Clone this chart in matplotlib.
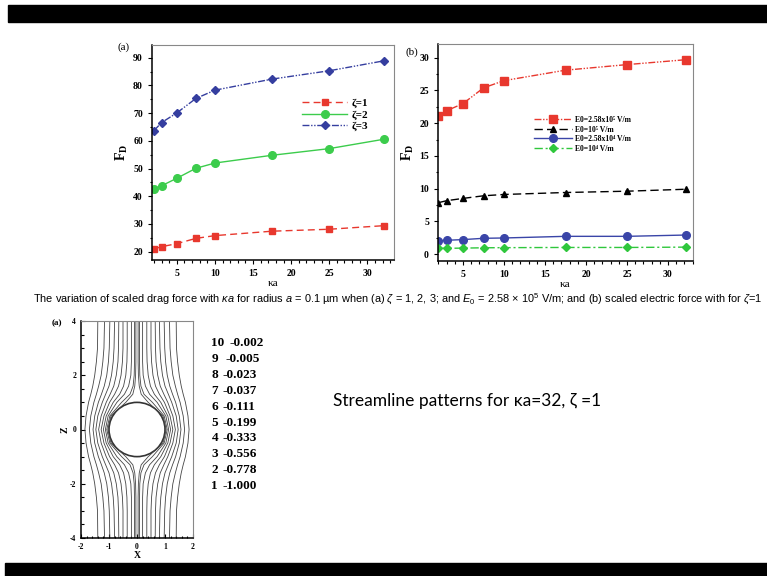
import matplotlib
matplotlib.use("Agg")
import matplotlib.pyplot as plt
import matplotlib.patches as mpatches
from matplotlib.ticker import MultipleLocator
import numpy as np

# ---- data ----
ka = [2, 3, 5, 7.5, 10, 17.5, 25, 32.2]

# (a) scaled drag force
fd_z1 = [21.0, 21.8, 22.9, 24.8, 25.8, 27.4, 28.1, 29.4]
fd_z2 = [42.6, 43.8, 46.5, 50.1, 52.0, 54.8, 57.2, 60.6]
fd_z3 = [63.7, 66.6, 70.1, 75.3, 78.3, 82.3, 85.3, 88.9]
labels_a = ["ζ=1", "ζ=2", "ζ=3"]

# (b) scaled electric force
fe_258e5 = [21.05, 21.9, 23.0, 25.4, 26.5, 28.1, 28.95, 29.7]
fe_1e5 = [7.85, 8.15, 8.5, 8.9, 9.1, 9.4, 9.6, 9.9]
fe_258e4 = [2.05, 2.1, 2.2, 2.4, 2.45, 2.7, 2.7, 2.9]
fe_1e4 = [0.87, 0.87, 0.9, 0.95, 0.97, 1.0, 1.0, 1.05]
labels_b = ["E0=2.58x10⁵ V/m", "E0=10⁵ V/m", "E0=2.58x10⁴ V/m", "E0=10⁴ V/m"]

# streamlines (right half, upper half; mirrored in x and z)
stream_z = [0, 0.5, 1.0, 1.3, 1.6, 2.0, 2.5, 3.0, 4.0]
stream_x = [
    [1.04, 0.93, 0.40, 0.15, 0.08, 0.05, 0.04, 0.04, 0.04],
    [1.08, 0.97, 0.55, 0.25, 0.14, 0.10, 0.09, 0.09, 0.09],
    [1.13, 1.03, 0.72, 0.45, 0.30, 0.22, 0.20, 0.20, 0.20],
    [1.20, 1.10, 0.85, 0.62, 0.48, 0.40, 0.36, 0.35, 0.35],
    [1.28, 1.18, 0.98, 0.80, 0.66, 0.57, 0.52, 0.50, 0.50],
    [1.37, 1.28, 1.10, 0.96, 0.83, 0.74, 0.68, 0.66, 0.65],
    [1.47, 1.40, 1.24, 1.12, 1.00, 0.91, 0.85, 0.82, 0.80],
    [1.57, 1.51, 1.38, 1.27, 1.17, 1.08, 1.02, 0.99, 0.97],
    [1.70, 1.65, 1.54, 1.45, 1.37, 1.28, 1.22, 1.18, 1.16],
    [1.86, 1.82, 1.73, 1.65, 1.58, 1.51, 1.45, 1.41, 1.40],
]
sphere_r = 1.0
level_ids = ["10", "9", "8", "7", "6", "5", "4", "3", "2", "1"]
level_vals = ["-0.002", "-0.005", "-0.023", "-0.037", "-0.111",
              "-0.199", "-0.333", "-0.556", "-0.778", "-1.000"]

caption = ("The variation of scaled drag force with $\\kappa a$ for radius $a$ = 0.1 µm "
           "when (a) $\\zeta$ = 1, 2, 3; and $E_0$ = 2.58 × 10$^5$ V/m; "
           "and (b) scaled electric force with for $\\zeta$=1")
slide_note = "Streamline patterns for κa=32, ζ =1"

# ---- fonts ----
cap_font = "Liberation Sans"
plt.rcParams["axes.unicode_minus"] = False
plt.rcParams["mathtext.fontset"] = "custom"
plt.rcParams["mathtext.rm"] = cap_font
plt.rcParams["mathtext.it"] = cap_font + ":italic"
plt.rcParams["mathtext.bf"] = "Liberation Serif:bold"
serif = ["Liberation Serif", "DejaVu Serif"]

fig = plt.figure(figsize=(7.67, 5.76), dpi=100)
W, H = 767.0, 576.0


def px_axes(l, t, r, b):
    return fig.add_axes([l / W, 1 - b / H, (r - l) / W, (b - t) / H])


def style_axes(ax, fs=7):
    for s in ["left", "bottom"]:
        ax.spines[s].set_linewidth(1.1)
    for s in ["top", "right"]:
        ax.spines[s].set_color("#888888")
        ax.spines[s].set_linewidth(0.8)
    ax.tick_params(which="both", direction="out", top=False, right=False,
                   labelsize=fs, width=0.8)
    ax.tick_params(which="major", length=3)
    ax.tick_params(which="minor", length=1.8)
    for lab in ax.get_xticklabels() + ax.get_yticklabels():
        lab.set_family(serif)
        lab.set_weight("bold")


# black slide bars
fig.patches.append(mpatches.Rectangle((8 / W, 1 - 22 / H), 1, 17 / H,
                                      transform=fig.transFigure, color="black"))
fig.patches.append(mpatches.Rectangle((5 / W, 0), 1, 13 / H,
                                      transform=fig.transFigure, color="black"))

# ---- (a) ----
ax = px_axes(152, 45, 394, 260)
ax.plot(ka, fd_z1, color="#e8382e", ls=(0, (5, 3)), lw=1, marker="s", ms=5, label=labels_a[0])
ax.plot(ka, fd_z2, color="#3ccc4c", ls="-", lw=1, marker="o", ms=5.5, label=labels_a[1])
ax.plot(ka, fd_z3, color="#353e9f", ls=(0, (5, 1.2, 1, 1.2, 1, 1.2)), lw=1, marker="D",
        ms=4.5, label=labels_a[2])
ax.set_xlim(1.74, 33.5)
ax.set_ylim(17, 94.6)
ax.xaxis.set_major_locator(MultipleLocator(5))
ax.xaxis.set_minor_locator(MultipleLocator(1))
ax.yaxis.set_major_locator(MultipleLocator(10))
ax.yaxis.set_minor_locator(MultipleLocator(5))
style_axes(ax)
ax.set_xlabel("κa", family=serif, fontsize=8, labelpad=1)
ax.set_ylabel(r"$\mathbf{F}_\mathbf{D}$", fontsize=10, labelpad=2)
ax.legend(loc="upper left", bbox_to_anchor=(0.58, 0.8), frameon=False,
          prop={"family": serif, "weight": "bold", "size": 8}, handlelength=4,
          labelspacing=0.15, handletextpad=0.4)
fig.text(118 / W, 1 - 47 / H, "(a)", family=serif, fontsize=8, va="center")

# ---- (b) ----
bx = px_axes(438, 44, 693, 261)
bx.plot(ka, fe_258e5, color="#e8382e", ls=(0, (5, 1.2, 1, 1.2, 1, 1.2)), lw=1, marker="s",
        ms=5.5, label=labels_b[0])
bx.plot(ka, fe_1e5, color="black", ls=(0, (6, 3)), lw=1, marker="^", ms=5, label=labels_b[1])
bx.plot(ka, fe_258e4, color="#3a45a8", ls="-", lw=1, marker="o", ms=5.5, label=labels_b[2])
bx.plot(ka, fe_1e4, color="#2fc73c", ls=(0, (6, 2, 1.5, 2)), lw=1, marker="D", ms=4,
        label=labels_b[3])
bx.set_xlim(1.94, 33.06)
bx.set_ylim(-1.07, 32.1)
bx.xaxis.set_major_locator(MultipleLocator(5))
bx.xaxis.set_minor_locator(MultipleLocator(1))
bx.yaxis.set_major_locator(MultipleLocator(5))
bx.yaxis.set_minor_locator(MultipleLocator(2.5))
style_axes(bx)
bx.set_xlabel("κa", family=serif, fontsize=8, labelpad=1)
bx.set_ylabel(r"$\mathbf{F}_\mathbf{D}$", fontsize=10, labelpad=2)
bx.legend(loc="upper left", bbox_to_anchor=(0.35, 0.7), frameon=False,
          prop={"family": serif, "weight": "bold", "size": 5.5}, handlelength=5,
          labelspacing=0.2, handletextpad=0.4)
fig.text(405 / W, 1 - 52 / H, "(b)", family=serif, fontsize=8, va="center")

# ---- caption ----
fig.text(33 / W, 1 - 299 / H, caption, family=cap_font, fontsize=7.9, va="center")

# ---- streamline panel ----
sx = px_axes(81, 321, 193, 538)
zu = np.array(stream_z)
for row in stream_x:
    xr = np.array(row)
    zz = np.concatenate([-zu[::-1], zu[1:]])
    xx = np.concatenate([xr[::-1], xr[1:]])
    sx.plot(xx, zz, color="#444444", lw=0.6)
    sx.plot(-xx, zz, color="#444444", lw=0.6)
sx.add_patch(mpatches.Circle((0, 0), sphere_r, fill=False, ec="#333333", lw=1.2))
sx.set_xlim(-2, 2)
sx.set_ylim(-4, 4)
sx.xaxis.set_major_locator(MultipleLocator(1))
sx.xaxis.set_minor_locator(MultipleLocator(0.2))
sx.yaxis.set_major_locator(MultipleLocator(2))
sx.yaxis.set_minor_locator(MultipleLocator(0.5))
style_axes(sx, fs=5.5)
sx.tick_params(which="both", direction="in")
sx.set_xlabel("X", family=serif, fontsize=7, weight="bold", labelpad=0)
sx.set_ylabel("Z", family=serif, fontsize=7, weight="bold", labelpad=0)
fig.text(52 / W, 1 - 323 / H, "(a)", family=serif, fontsize=6.5, weight="bold", va="center")

# contour level list, clipped at the slide edge
lx = px_axes(205, 330, 262.5, 500)
lx.set_axis_off()
lx.set_xlim(205, 262.5)
lx.set_ylim(500, 330)
for i, (lid, lv) in enumerate(zip(level_ids, level_vals)):
    y = 343 + i * 15.9
    vx = 230 if lid == "10" else (226 if lid == "9" else 223)
    lx.text(211.5, y, lid, family=serif, weight="bold", fontsize=9.5, va="center", clip_on=True)
    lx.text(vx, y, lv, family=serif, weight="bold", fontsize=9.5, va="center", clip_on=True)

fig.text(333 / W, 1 - 401 / H, slide_note, family=["Lato", "DejaVu Sans"], fontsize=12.5,
         va="center")

fig.savefig("out.png", dpi=100, facecolor="white")
